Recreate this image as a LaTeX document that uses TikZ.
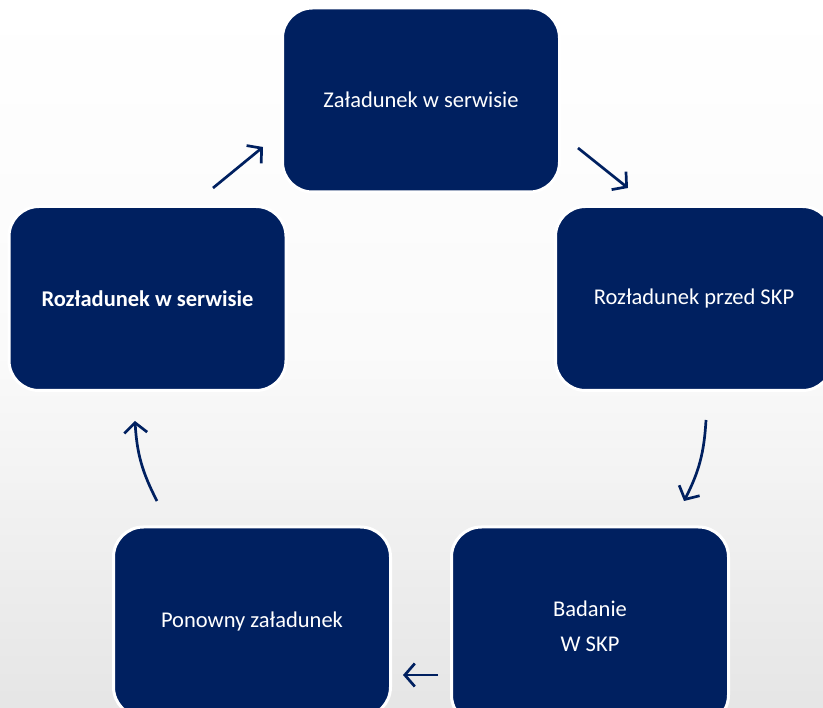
\documentclass[tikz,border=0pt]{standalone}
\usepackage{fontspec}
\setmainfont{Carlito}
\usetikzlibrary{arrows.meta}
\definecolor{granat}{HTML}{002060}

\begin{document}
\begin{tikzpicture}[x=1pt, y=-1pt,
                    etap/.style={fill=granat, draw=white, line width=3pt, rounded corners=30pt,
                                 minimum width=277pt, minimum height=184pt, inner sep=0pt,
                                 text=white, align=center, font=\fontsize{22.5}{35}\selectfont},
                    krok/.style={draw=granat, line width=2.7pt, -{Straight Barb[length=10pt,width=23pt]}}]
                    \shade[top color=white, bottom color=gray!20, middle color=white!96!gray] (0,0) rectangle (823,708);
                    \clip (0,0) rectangle (823,708);

                    \node[etap] (zaladunek) at (421,100) {Załadunek w serwisie};
                    \node[etap] (rozladunekSKP) at (694,298.5) {Rozładunek przed SKP};
                    \node[etap, minimum height=198pt] (badanie) at (590,626) {Badanie\\W SKP};
                    \node[etap, minimum height=190pt] (ponowny) at (252,622) {Ponowny załadunek};
                    \node[etap] (rozladunek) at (147.5,298.5) {\bfseries Rozładunek w serwisie};

                    % konce strzalek miedzy etapami
                    \coordinate (k1a) at (213,188);  \coordinate (k1b) at (263,147);
                    \coordinate (k2a) at (578,148);  \coordinate (k2b) at (628,188);
                    \coordinate (k3a) at (706,420);  \coordinate (k3b) at (684,501);
                    \coordinate (k4a) at (438,675);  \coordinate (k4b) at (403,675);
                    \coordinate (k5a) at (157,501);  \coordinate (k5b) at (135,421);

                    \draw[krok] (k1a) -- (k1b);
                    \draw[krok] (k2a) -- (k2b);
                    \draw[krok] (k3a) to[bend left=12] (k3b);
                    \draw[krok] (k4a) -- (k4b);
                    \draw[krok] (k5a) to[bend left=12] (k5b);
\end{tikzpicture}
\end{document}
